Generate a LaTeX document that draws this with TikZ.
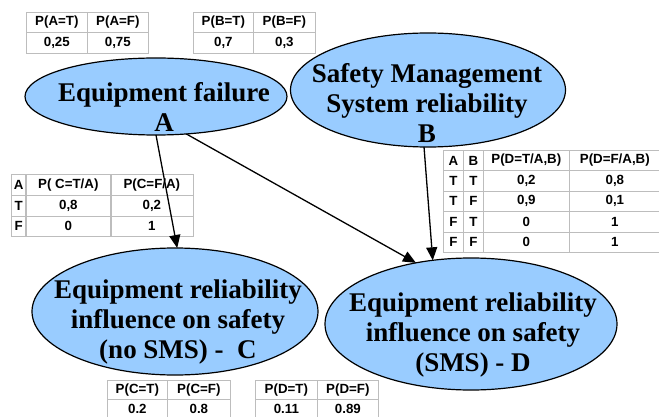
\documentclass[tikz,border=0pt]{standalone}
\usepackage{fontspec}
\setmainfont{Liberation Serif}
\newfontfamily\tabsans{Liberation Sans}
\usetikzlibrary{shapes.geometric,arrows.meta,matrix}
\definecolor{nodeblue}{HTML}{99CCFF}
\definecolor{gridgrey}{HTML}{BDBDBD}
\tikzset{
  ell/.style={ellipse, draw=black, line width=1.2pt, fill=nodeblue, inner sep=0pt, outer sep=0pt},
  lbl/.style={align=center, inner sep=0pt, font=\fontsize{27}{30}\selectfont\bfseries},
  arr/.style={line width=1.3pt, -{Triangle[length=13pt,width=11pt]}},
  cpt/.style={matrix of nodes, anchor=north west, inner sep=0pt, outer sep=0pt,
    column sep=-0.7pt, row sep=-0.7pt,
    nodes={draw=gridgrey, line width=0.7pt, inner sep=0pt, outer sep=0pt,
      minimum height=20.4pt, font=\tabsans\fontsize{13.3}{15}\selectfont\bfseries, anchor=center}}
}
\begin{document}
\begin{tikzpicture}[x=1pt,y=-1pt]
\useasboundingbox (0,0) rectangle (659,417);
% prior tables
\matrix (tA) [cpt, column 1/.style={nodes={minimum width=61pt}}, column 2/.style={nodes={minimum width=61pt}}] at (26,12)
 {P(A=T) & P(A=F)\\ 0,25 & 0,75\\};
\matrix (tB) [cpt, column 1/.style={nodes={minimum width=60pt}}, column 2/.style={nodes={minimum width=62pt}}] at (193,12)
 {P(B=T) & P(B=F)\\ 0,7 & 0,3\\};
% CPT for C
\matrix (tC) [cpt, nodes={minimum height=20.8pt},
  column 1/.style={nodes={minimum width=14.5pt}},
  column 2/.style={nodes={minimum width=85pt}},
  column 3/.style={nodes={minimum width=82pt}}] at (11,174)
 {A & P( C=T/A) & P(C=F/A)\\
  T & 0,8 & 0,2\\
  F & 0 & 1\\};
% CPT for D
\matrix (tD) [cpt,
  column 1/.style={nodes={minimum width=20pt}},
  column 2/.style={nodes={minimum width=20pt}},
  column 3/.style={nodes={minimum width=86pt}},
  column 4/.style={nodes={minimum width=91pt}}] at (443,150)
 {A & B & P(D=T/A,B) & P(D=F/A,B)\\
  T & T & 0,2 & 0,8\\
  T & F & 0,9 & 0,1\\
  F & T & 0 & 1\\
  F & F & 0 & 1\\};
% marginal tables
\matrix (mC) [cpt, nodes={minimum height=19pt}, column 1/.style={nodes={minimum width=60pt}}, column 2/.style={nodes={minimum width=63pt}}] at (107,380)
 {P(C=T) & P(C=F)\\ 0.2 & 0.8\\};
\matrix (mD) [cpt, nodes={minimum height=19pt}, column 1/.style={nodes={minimum width=62pt}}, column 2/.style={nodes={minimum width=61pt}}] at (255,380)
 {P(D=T) & P(D=F)\\ 0.11 & 0.89\\};
% ellipses
\node[ell, minimum width=262pt, minimum height=77pt] (A) at (156,96.5) {};
\node[ell, minimum width=275pt, minimum height=114pt] (B) at (428,90) {};
\node[ell, minimum width=286pt, minimum height=127pt] (C) at (175,311.5) {};
\node[ell, minimum width=292pt, minimum height=132pt] (D) at (471,324) {};
\node[lbl] (Atxt) at (164,107) {Equipment failure\\A};
\node[lbl] (Btxt) at (427,103) {Safety Management\\System reliability\\B};
\node[lbl] (Ctxt) at (178,322) {Equipment reliability\\influence on safety\\(no SMS) -~~C};
\node[lbl] (Dtxt) at (473,335) {Equipment reliability\\influence on safety\\(SMS) - D};
% arrows
\draw[arr] (A.south) -- (C.88);
\draw[arr] (A.-51.5) -- (D.132.6);
\draw[arr] (B.-94) -- (D.121);
\end{tikzpicture}
\end{document}
